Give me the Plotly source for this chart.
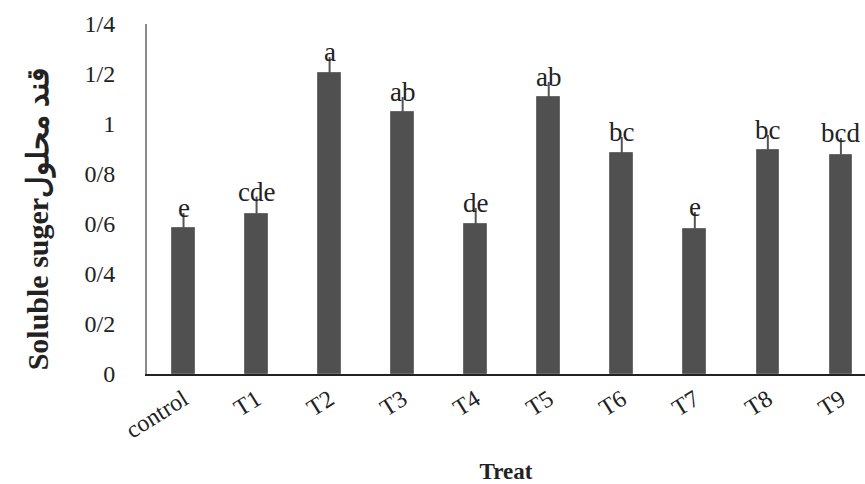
import plotly.graph_objects as go

categories = ["control", "T1", "T2", "T3", "T4", "T5", "T6", "T7", "T8", "T9"]
values = [0.584, 0.64, 1.204, 1.048, 0.60, 1.108, 0.884, 0.58, 0.896, 0.876]
errors = [0.06, 0.07, 0.064, 0.06, 0.064, 0.06, 0.064, 0.068, 0.06, 0.068]
letters = ["e", "cde", "a", "ab", "de", "ab", "bc", "e", "bc", "bcd"]
tick_vals = [0, 0.2, 0.4, 0.6, 0.8, 1.0, 1.2, 1.4]
tick_text = ["0", "0/2", "0/4", "0/6", "0/8", "1", "1/2", "1/4"]

serif = "Liberation Serif, Times New Roman, serif"

fig = go.Figure()
fig.add_trace(go.Bar(
    x=list(range(len(categories))), y=values, width=0.31,
    marker=dict(color="#505050", line=dict(color="#6a6a6a", width=1)),
    error_y=dict(type="data", array=errors, arrayminus=[0]*len(errors), symmetric=False,
                 color="#555555", thickness=2, width=0),
))

for i, (v, e, t) in enumerate(zip(values, errors, letters)):
    fig.add_annotation(x=i, y=v + e, text=t, showarrow=False, yanchor="bottom", yshift=-12,
                       font=dict(family=serif, size=27, color="#222222"))

fig.add_annotation(xref="paper", yref="paper", x=-0.177, y=0.443, textangle=-90,
                   text="<b>Soluble suger</b><b>قند محلول</b>", showarrow=False,
                   font=dict(family=serif, size=30, color="#222222"))

fig.update_layout(
    width=865, height=484,
    margin=dict(l=147, r=0, t=24, b=110),
    plot_bgcolor="white", paper_bgcolor="white",
    showlegend=False, bargap=0,
    xaxis=dict(
        range=[-0.5, 9.33], tickmode="array", tickvals=list(range(len(categories))),
        ticktext=categories, tickangle=-32, showgrid=False, zeroline=False,
        showline=True, linecolor="#222222", linewidth=2, ticks="",
        tickfont=dict(family=serif, size=24, color="#222222"),
        title=dict(text="<b>Treat</b>", font=dict(family=serif, size=23, color="#222222"), standoff=24),
    ),
    yaxis=dict(
        range=[0, 1.4], tickmode="array", tickvals=tick_vals, ticktext=tick_text,
        showgrid=False, zeroline=False, showline=True, linecolor="#8a8a8a", linewidth=2,
        ticks="", ticklabelstandoff=25,
        tickfont=dict(family=serif, size=24, color="#222222"),
    ),
)

fig.write_html("out.html")
